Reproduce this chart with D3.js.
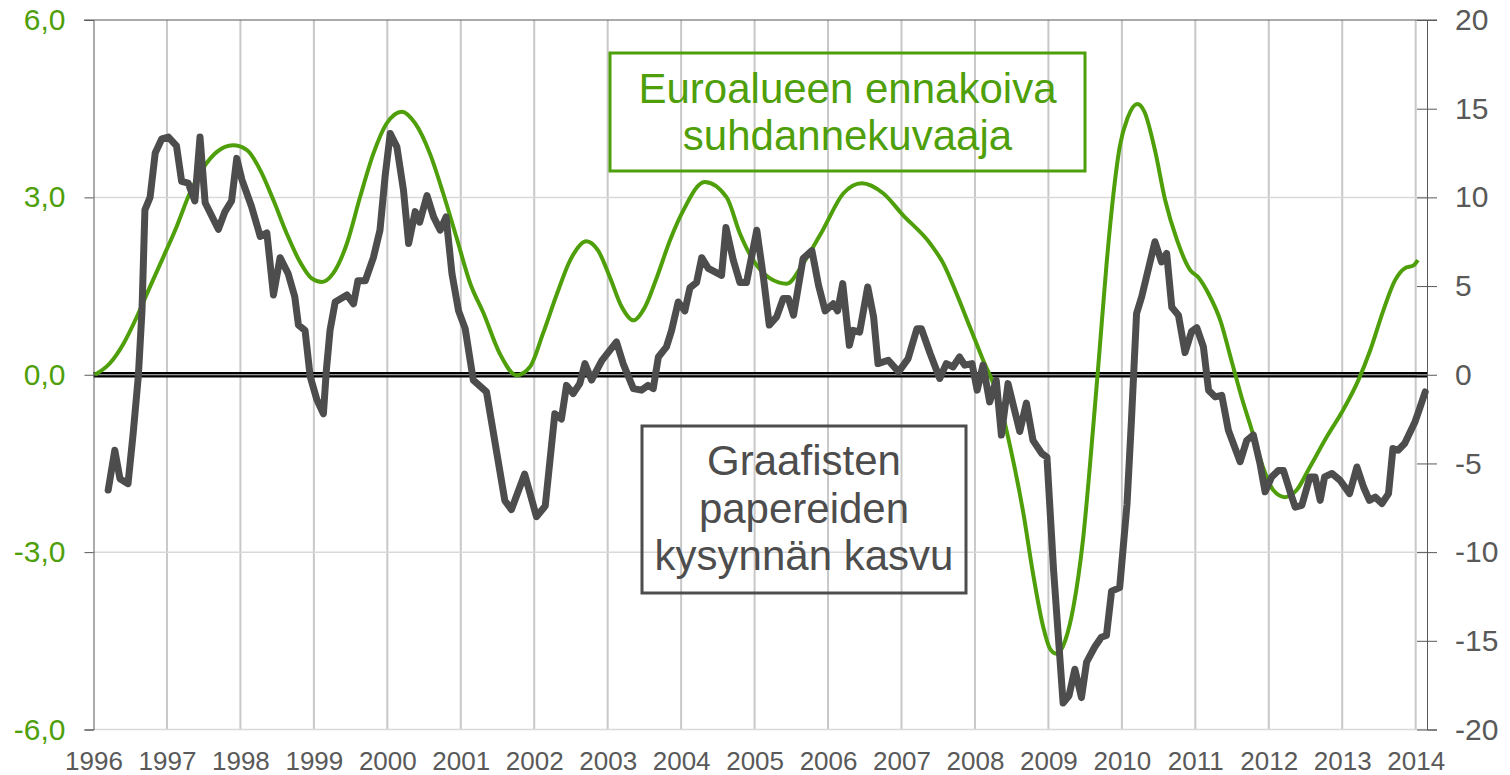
<!DOCTYPE html>
<html>
<head>
<meta charset="utf-8">
<script src="https://cdn.jsdelivr.net/npm/d3@7"></script>
<style>
    body { margin: 0; background: #fff; }
    svg { display: block; font-family: Arial, "Liberation Sans", sans-serif; }
</style>
</head>
<body>
<div id="chart"></div>
<script>
// Year labels on the x axis
const yearLabels = [1996, 1997, 1998, 1999, 2000, 2001, 2002, 2003, 2004, 2005,
    2006, 2007, 2008, 2009, 2010, 2011, 2012, 2013, 2014];

// Left axis (leading indicator) and right axis (paper demand growth, %)
const leftTicks = [6, 3, 0, -3, -6];
const rightTicks = [20, 15, 10, 5, 0, -5, -10, -15, -20];

// Graafisten papereiden kysynnän kasvu (right axis)
const grayDates = [
    1996.20, 1996.29, 1996.36, 1996.47, 1996.54, 1996.61, 1996.66, 1996.70, 1996.77, 1996.84,
    1996.93, 1997.02, 1997.13, 1997.20, 1997.29, 1997.38, 1997.45, 1997.52, 1997.70, 1997.79,
    1997.88, 1997.95, 1998.02, 1998.15, 1998.27, 1998.36, 1998.45, 1998.54, 1998.65, 1998.74,
    1998.79, 1998.88, 1998.95, 1999.04, 1999.13, 1999.17, 1999.22, 1999.29, 1999.45, 1999.54,
    1999.60, 1999.70, 1999.81, 1999.90, 1999.97, 2000.04, 2000.13, 2000.22, 2000.29, 2000.38,
    2000.44, 2000.54, 2000.63, 2000.72, 2000.80, 2000.88, 2000.97, 2001.06, 2001.17, 2001.35,
    2001.60, 2001.69, 2001.87, 2002.03, 2002.15, 2002.28, 2002.37, 2002.44, 2002.53, 2002.62,
    2002.69, 2002.78, 2002.92, 2003.12, 2003.21, 2003.35, 2003.46, 2003.55, 2003.62, 2003.69,
    2003.80, 2003.87, 2003.96, 2004.05, 2004.12, 2004.21, 2004.28, 2004.37, 2004.55, 2004.61,
    2004.71, 2004.80, 2004.89, 2005.03, 2005.12, 2005.20, 2005.30, 2005.39, 2005.46, 2005.53,
    2005.66, 2005.78, 2005.87, 2005.96, 2006.07, 2006.13, 2006.20, 2006.29, 2006.34, 2006.43,
    2006.54, 2006.62, 2006.68, 2006.82, 2006.96, 2007.09, 2007.21, 2007.27, 2007.39, 2007.52,
    2007.61, 2007.70, 2007.79, 2007.86, 2007.96, 2008.03, 2008.11, 2008.20, 2008.29, 2008.36,
    2008.45, 2008.61, 2008.70, 2008.79, 2008.91, 2008.98, 2009.07, 2009.20, 2009.28, 2009.36,
    2009.45, 2009.52, 2009.63, 2009.72, 2009.79, 2009.86, 2009.97, 2010.07, 2010.13, 2010.20,
    2010.27, 2010.45, 2010.54, 2010.61, 2010.68, 2010.77, 2010.86, 2010.95, 2011.02, 2011.11,
    2011.18, 2011.27, 2011.36, 2011.45, 2011.61, 2011.70, 2011.79, 2011.88, 2011.95, 2012.04,
    2012.13, 2012.20, 2012.29, 2012.36, 2012.45, 2012.56, 2012.63, 2012.70, 2012.76, 2012.86,
    2012.97, 2013.10, 2013.20, 2013.29, 2013.37, 2013.45, 2013.54, 2013.63, 2013.69, 2013.76,
    2013.85, 2013.99, 2014.03, 2014.13
];
const grayValues = [
    -6.5, -4.26, -5.86, -6.14, -3.3, -0.1, 3.6, 9.3, 10.0, 12.5,
    13.3, 13.4, 12.9, 10.9, 10.8, 9.8, 13.4, 9.7, 8.2, 9.2,
    9.8, 12.2, 11.0, 9.5, 7.8, 8.0, 4.5, 6.6, 5.7, 4.4,
    2.8, 2.5, -0.1, -1.4, -2.2, 0.25, 2.5, 4.1, 4.5, 4.0,
    5.3, 5.3, 6.6, 8.15, 11.2, 13.6, 12.85, 10.4, 7.4, 9.2,
    8.6, 10.1, 8.9, 8.15, 8.9, 5.7, 3.6, 2.6, -0.3, -0.97,
    -7.1, -7.6, -5.6, -8.0, -7.4, -2.2, -2.5, -0.6, -1.06, -0.5,
    0.63, -0.3, 0.8, 1.85, 0.63, -0.78, -0.87, -0.6, -0.78, 1.0,
    1.57, 2.5, 4.1, 3.6, 4.9, 5.2, 6.6, 6.0, 5.6, 8.3,
    6.46, 5.2, 5.2, 8.15, 5.5, 2.8, 3.26, 4.3, 4.3, 3.36,
    6.55, 7.0, 5.05, 3.6, 4.0, 3.6, 5.14, 1.66, 2.5, 2.4,
    4.95, 3.26, 0.63, 0.82, 0.16, 0.91, 2.6, 2.6, 1.2, -0.21,
    0.63, 0.44, 1.0, 0.54, 0.63, -0.87, 0.54, -1.53, -0.31, -3.4,
    -0.5, -3.2, -1.6, -3.7, -4.44, -4.64, -11.0, -18.5, -18.1, -16.6,
    -18.2, -16.2, -15.35, -14.8, -14.7, -12.2, -12.0, -7.3, -2.6, 3.45,
    4.4, 7.5, 6.36, 6.84, 3.8, 3.36, 1.25, 2.45, 2.65, 1.57,
    -0.87, -1.25, -1.16, -3.13, -4.9, -3.7, -3.4, -5.0, -6.6, -5.76,
    -5.4, -5.4, -6.6, -7.46, -7.36, -5.76, -5.76, -7.08, -5.76, -5.57,
    -5.95, -6.7, -5.2, -6.33, -7.08, -6.9, -7.26, -6.7, -4.16, -4.26,
    -3.88, -2.66, -2.19, -0.97
];

// Euroalueen ennakoiva suhdannekuvaaja (left axis)
const greenDates = [
    1996.02, 1996.22, 1996.41, 1996.59, 1996.77, 1996.95, 1997.13, 1997.31, 1997.49, 1997.68,
    1997.90, 1998.09, 1998.27, 1998.45, 1998.63, 1998.81, 1998.97, 1999.11, 1999.26, 1999.45,
    1999.63, 1999.81, 1999.99, 2000.20, 2000.38, 2000.58, 2000.76, 2000.94, 2001.13, 2001.31,
    2001.53, 2001.76, 2001.94, 2002.12, 2002.31, 2002.49, 2002.71, 2002.87, 2003.03, 2003.19,
    2003.35, 2003.51, 2003.67, 2003.85, 2004.03, 2004.32, 2004.62, 2004.80, 2004.98, 2005.21,
    2005.44, 2005.66, 2005.93, 2006.21, 2006.46, 2006.75, 2007.02, 2007.39, 2007.57, 2007.75,
    2007.93, 2008.11, 2008.30, 2008.48, 2008.66, 2008.79, 2008.93, 2009.02, 2009.11, 2009.23,
    2009.34, 2009.47, 2009.61, 2009.70, 2009.79, 2009.88, 2009.97, 2010.08, 2010.21, 2010.31,
    2010.45, 2010.59, 2010.75, 2010.93, 2011.04, 2011.18, 2011.34, 2011.49, 2011.63, 2011.77,
    2011.92, 2012.06, 2012.22, 2012.38, 2012.56, 2012.79, 2013.01, 2013.22, 2013.38, 2013.56,
    2013.72, 2013.85, 2013.97, 2014.03
];
const greenValues = [
    0.0, 0.19, 0.53, 0.98, 1.49, 1.99, 2.5, 3.07, 3.49, 3.77,
    3.88, 3.8, 3.46, 2.95, 2.39, 1.91, 1.63, 1.57, 1.71, 2.22,
    3.01, 3.74, 4.25, 4.45, 4.25, 3.74, 3.07, 2.33, 1.54, 1.04,
    0.36, -0.01, 0.13, 0.7, 1.37, 1.94, 2.26, 2.1, 1.65, 1.15,
    0.92, 1.15, 1.65, 2.28, 2.78, 3.26, 3.0, 2.39, 1.94, 1.63,
    1.54, 1.88, 2.45, 3.07, 3.24, 3.07, 2.7, 2.22, 1.88, 1.37,
    0.81, 0.25, -0.32, -1.22, -2.35, -3.36, -4.27, -4.63, -4.72, -4.49,
    -3.93, -2.8, -0.88, 0.47, 1.85, 3.0, 3.85, 4.35, 4.58, 4.44,
    3.8, 2.95, 2.28, 1.77, 1.65, 1.37, 0.92, 0.25, -0.38, -0.94,
    -1.56, -1.95, -2.07, -1.95, -1.56, -1.05, -0.6, -0.09, 0.41, 1.09,
    1.6, 1.8, 1.85, 1.94
];

// Text boxes
const greenBoxLines = ["Euroalueen ennakoiva", "suhdannekuvaaja"];
const grayBoxLines = ["Graafisten", "papereiden", "kysynnän kasvu"];

const GREEN = '#4e9f0a';
const DARK = '#4d4d4d';
const AXIS = '#595959';

function renderChart() {
    const width = 1510;
    const height = 775;
    const plot = {left: 93.5, right: 1427, top: 20, bottom: 729.5};

    const svg = d3.select('#chart')
        .append('svg')
        .attr('width', width)
        .attr('height', height);

    // x: decimal years, 2014 sits a little left of the right axis
    const x = d3.scaleLinear()
        .domain([1996, 2014.154])
        .range([plot.left, plot.right]);
    const yLeft = d3.scaleLinear().domain([-6, 6]).range([plot.bottom, plot.top]);
    const yRight = d3.scaleLinear().domain([-20, 20]).range([plot.bottom, plot.top]);

    // Vertical year gridlines
    svg.append('g')
        .selectAll('line')
        .data(yearLabels.slice(1))
        .join('line')
        .attr('x1', d => x(d)).attr('x2', d => x(d))
        .attr('y1', plot.top).attr('y2', plot.bottom)
        .attr('stroke', '#c8c8c8')
        .attr('stroke-width', 2);

    // Horizontal gridlines (top one is drawn darker, like a frame)
    svg.append('g')
        .selectAll('line')
        .data(leftTicks.filter(d => d !== 0))
        .join('line')
        .attr('x1', d => d === 6 ? 84 : plot.left)
        .attr('x2', d => d === 6 ? 1437 : plot.right)
        .attr('y1', d => yLeft(d)).attr('y2', d => yLeft(d))
        .attr('stroke', d => d === 6 ? AXIS : '#d9d9d9')
        .attr('stroke-width', d => d === 6 ? 1.2 : 1.5);

    // Zero line: thick black with a thin light stripe
    svg.append('line')
        .attr('x1', plot.left).attr('x2', plot.right)
        .attr('y1', yLeft(0)).attr('y2', yLeft(0))
        .attr('stroke', '#000')
        .attr('stroke-width', 5.5);
    svg.append('line')
        .attr('x1', plot.left).attr('x2', plot.right)
        .attr('y1', yLeft(0)).attr('y2', yLeft(0))
        .attr('stroke', '#c4c4c4')
        .attr('stroke-width', 1);

    // Left axis
    const leftAxis = svg.append('g')
        .attr('transform', `translate(${plot.left},0)`)
        .call(d3.axisLeft(yLeft)
            .tickValues(leftTicks)
            .tickSize(9)
            .tickPadding(19)
            .tickFormat(d => d.toFixed(1).replace('.', ',')));
    leftAxis.select('.domain').attr('stroke', AXIS);
    leftAxis.selectAll('.tick line').attr('stroke', AXIS);
    leftAxis.selectAll('.tick text')
        .attr('fill', GREEN)
        .attr('font-size', 30)
        .attr('font-family', 'Arial, "Liberation Sans", sans-serif');

    // Right axis, ticks cross the axis line
    const rightAxis = svg.append('g')
        .attr('transform', `translate(${plot.right},0)`)
        .call(d3.axisRight(yRight)
            .tickValues(rightTicks)
            .tickSize(10)
            .tickPadding(18)
            .tickFormat(d => String(d)));
    rightAxis.select('.domain').attr('stroke', AXIS);
    rightAxis.selectAll('.tick line').attr('x1', -10).attr('stroke', AXIS);
    rightAxis.selectAll('.tick text')
        .attr('fill', AXIS)
        .attr('font-size', 30)
        .attr('font-family', 'Arial, "Liberation Sans", sans-serif');

    // Bottom axis: labels only
    const bottomAxis = svg.append('g')
        .attr('transform', `translate(0,${plot.bottom})`)
        .call(d3.axisBottom(x)
            .tickValues(yearLabels)
            .tickSize(0)
            .tickPadding(22)
            .tickFormat(d3.format('d')));
    bottomAxis.select('.domain').remove();
    bottomAxis.selectAll('.tick text')
        .attr('fill', AXIS)
        .attr('font-size', 26)
        .attr('font-family', 'Arial, "Liberation Sans", sans-serif');

    // Green leading indicator line
    const greenData = greenDates.map((d, i) => [d, greenValues[i]]);
    svg.append('path')
        .datum(greenData)
        .attr('fill', 'none')
        .attr('stroke', GREEN)
        .attr('stroke-width', 4)
        .attr('stroke-linejoin', 'round')
        .attr('d', d3.line()
            .x(d => x(d[0]))
            .y(d => yLeft(d[1]))
            .curve(d3.curveMonotoneX));

    // Gray demand growth line on top
    const grayData = grayDates.map((d, i) => [d, grayValues[i]]);
    svg.append('path')
        .datum(grayData)
        .attr('fill', 'none')
        .attr('stroke', DARK)
        .attr('stroke-width', 7)
        .attr('stroke-linejoin', 'round')
        .attr('stroke-linecap', 'round')
        .attr('d', d3.line()
            .x(d => x(d[0]))
            .y(d => yRight(d[1])));

    // Annotation boxes (no fill, gridlines show through)
    const boxes = [
        {lines: greenBoxLines, color: GREEN, x: 610, y: 53, w: 475, h: 118, base: 103, step: 47},
        {lines: grayBoxLines, color: DARK, x: 642, y: 426, w: 324, h: 167, base: 475, step: 47.5}
    ];
    boxes.forEach(b => {
        svg.append('rect')
            .attr('x', b.x).attr('y', b.y)
            .attr('width', b.w).attr('height', b.h)
            .attr('fill', 'none')
            .attr('stroke', b.color)
            .attr('stroke-width', 3);
        svg.append('g')
            .selectAll('text')
            .data(b.lines)
            .join('text')
            .attr('x', b.x + b.w / 2)
            .attr('y', (d, i) => b.base + i * b.step)
            .attr('text-anchor', 'middle')
            .attr('font-size', 42)
            .attr('fill', b.color)
            .text(d => d);
    });
}

renderChart();
</script>
</body>
</html>
